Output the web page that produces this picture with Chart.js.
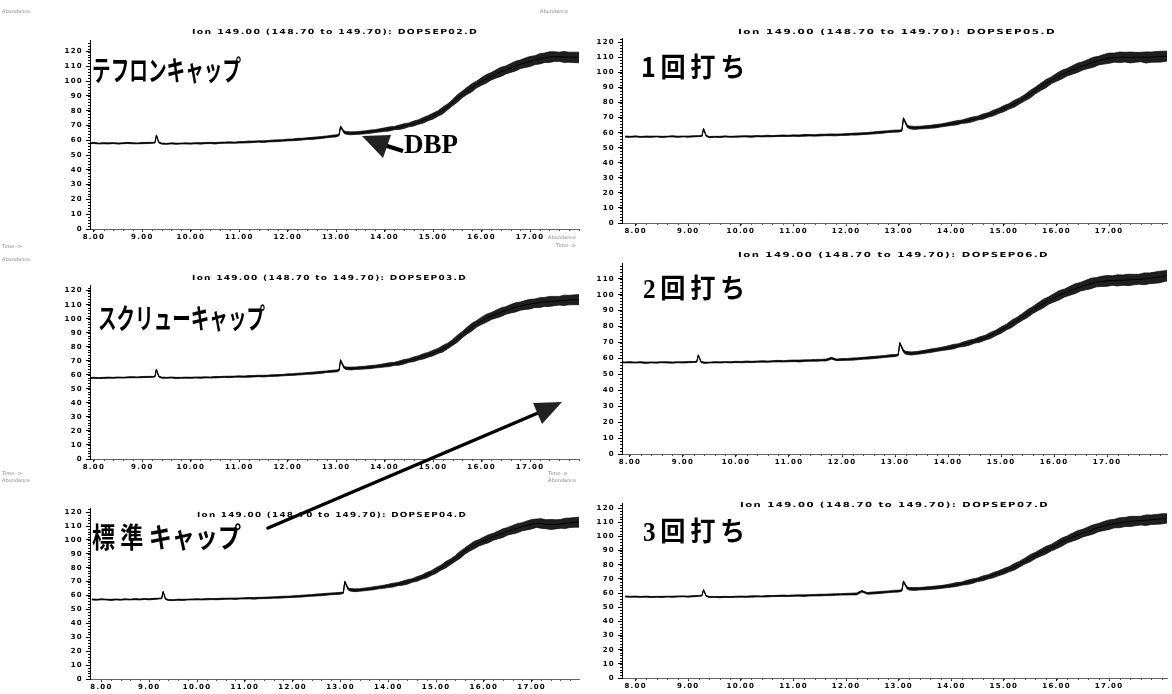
<!DOCTYPE html>
<html>
<head>
<meta charset="utf-8">
<script src="https://cdn.jsdelivr.net/npm/chart.js@4.4.1/dist/chart.umd.min.js"></script>
<style>
  html, body { margin: 0; padding: 0; background: #fff; }
  #page { position: relative; width: 1172px; height: 694px; overflow: hidden; background: #fff; }
  #page canvas { position: absolute; }
  #notes { left: 0; top: 0; z-index: 2; pointer-events: none; }
</style>
</head>
<body>
<div id="page"><canvas id="notes" width="1172" height="694"></canvas></div>
<script>
// Retention time grid (min), shared by all six ion-149 traces
const retentionTime = [
  7.8, 7.9, 8.0, 8.1, 8.2, 8.3, 8.4, 8.5, 8.6, 8.7,
  8.8, 8.9, 9.0, 9.1, 9.2, 9.26, 9.29, 9.34, 9.4, 9.5,
  9.6, 9.7, 9.8, 9.9, 10.0, 10.1, 10.2, 10.3, 10.4, 10.5,
  10.6, 10.7, 10.8, 10.9, 11.0, 11.1, 11.2, 11.3, 11.4, 11.5,
  11.6, 11.7, 11.8, 11.9, 12.0, 12.1, 12.2, 12.3, 12.4, 12.5,
  12.6, 12.7, 12.8, 12.9, 13.0, 13.06, 13.09, 13.16, 13.2, 13.3,
  13.4, 13.5, 13.6, 13.7, 13.8, 13.9, 14.0, 14.1, 14.2, 14.3,
  14.4, 14.5, 14.6, 14.7, 14.8, 14.9, 15.0, 15.1, 15.2, 15.3,
  15.4, 15.5, 15.6, 15.7, 15.8, 15.9, 16.0, 16.1, 16.2, 16.3,
  16.4, 16.5, 16.6, 16.7, 16.8, 16.9, 17.0, 17.1, 17.2, 17.3,
  17.4, 17.5, 17.6, 17.7, 17.8, 17.9, 18.0, 18.1, 18.2, 18.3
];

// Half-height of the noise band around each trace (abundance units)
const noiseHalfWidth = [
  0.4, 0.3, 0.4, 0.3, 0.4, 0.4, 0.3, 0.4, 0.3, 0.4,
  0.4, 0.3, 0.4, 0.4, 0.3, 0.3, 0.3, 0.4, 0.4, 0.3,
  0.4, 0.4, 0.3, 0.4, 0.4, 0.4, 0.5, 0.4, 0.4, 0.5,
  0.4, 0.4, 0.5, 0.4, 0.5, 0.5, 0.6, 0.5, 0.5, 0.6,
  0.5, 0.6, 0.6, 0.5, 0.6, 0.6, 0.7, 0.6, 0.6, 0.7,
  0.7, 0.7, 0.6, 0.7, 0.7, 0.5, 0.5, 0.8, 0.9, 1.0,
  0.9, 1.0, 1.0, 1.1, 1.0, 1.1, 1.2, 1.4, 1.1, 1.5,
  1.6, 1.3, 1.7, 1.5, 1.9, 1.7, 2.0, 1.8, 2.3, 2.0,
  2.1, 2.5, 2.2, 2.4, 2.7, 2.3, 2.6, 2.9, 2.5, 2.8,
  3.1, 2.7, 3.0, 3.3, 2.9, 3.2, 3.4, 3.0, 3.5, 3.2,
  3.6, 3.3, 3.1, 3.7, 3.4, 3.5, 3.6, 3.3, 3.7, 3.5
];

// Abundance traces, one per sample
const teflonCap = [
  58.1, 57.9, 58.2, 57.8, 58.0, 57.9, 58.1, 57.8, 58.0, 58.2,
  58.0, 57.9, 58.1, 58.2, 58.3, 58.4, 63.4, 58.6, 57.8, 57.6,
  57.9, 57.7, 57.8, 57.9, 57.8, 58.0, 57.9, 58.1, 58.2, 58.0,
  58.3, 58.4, 58.5, 58.4, 58.6, 58.7, 58.9, 59.0, 59.2, 59.1,
  59.4, 59.6, 59.7, 59.9, 60.2, 60.3, 60.6, 60.8, 61.1, 61.3,
  61.6, 61.9, 62.3, 62.7, 63.0, 63.6, 69.3, 65.6, 65.0, 64.7,
  64.9, 65.1, 65.4, 65.8, 66.2, 66.7, 67.2, 67.7, 68.3, 68.8,
  69.6, 70.4, 71.3, 72.4, 73.6, 75.0, 76.4, 78.1, 80.2, 82.6,
  85.4, 88.3, 91.0, 93.4, 95.6, 97.8, 99.8, 101.6, 103.3, 104.9,
  106.3, 107.6, 108.9, 110.2, 111.4, 112.4, 113.3, 114.2, 115.1, 115.8,
  116.3, 116.6, 116.5, 116.4, 116.2, 116.1, 116.0, 116.0, 116.0, 116.0
];
const singleStrike = [
  57.4, 57.3, 57.5, 57.2, 57.4, 57.3, 57.5, 57.2, 57.4, 57.6,
  57.3, 57.5, 57.4, 57.6, 57.7, 57.8, 62.6, 57.9, 57.1, 57.3,
  57.2, 57.5, 57.3, 57.4, 57.5, 57.6, 57.4, 57.7, 57.6, 57.8,
  57.7, 57.9, 58.0, 57.9, 58.1, 58.0, 58.2, 58.3, 58.2, 58.4,
  58.5, 58.6, 58.5, 58.7, 58.8, 59.0, 59.1, 59.3, 59.5, 59.8,
  60.1, 60.4, 60.7, 61.0, 61.1, 61.4, 69.6, 64.4, 63.6, 63.2,
  63.4, 63.6, 63.9, 64.3, 64.8, 65.4, 66.0, 66.6, 67.3, 68.0,
  68.8, 69.7, 70.7, 71.8, 73.1, 74.5, 76.0, 77.6, 79.3, 81.2,
  83.3, 85.6, 88.1, 90.4, 92.6, 94.8, 96.8, 98.6, 100.2, 101.7,
  103.1, 104.4, 105.6, 106.8, 107.9, 108.8, 109.5, 109.9, 110.1, 110.2,
  110.0, 110.1, 110.3, 110.0, 110.2, 110.4, 110.6, 110.9, 111.2, 111.0
];
const screwCap = [
  57.8, 57.6, 57.9, 57.7, 57.8, 58.0, 57.9, 58.1, 58.0, 58.2,
  58.3, 58.2, 58.4, 58.5, 58.6, 58.7, 63.9, 58.8, 58.0, 57.9,
  58.1, 57.8, 57.9, 58.0, 57.9, 58.1, 58.0, 58.2, 58.1, 58.3,
  58.4, 58.6, 58.5, 58.7, 58.8, 58.7, 58.9, 59.0, 59.2, 59.1,
  59.3, 59.5, 59.6, 59.8, 60.1, 60.2, 60.5, 60.7, 61.0, 61.2,
  61.5, 61.8, 62.2, 62.5, 62.8, 63.3, 70.4, 65.4, 64.7, 64.5,
  64.7, 64.9, 65.2, 65.5, 65.9, 66.3, 66.8, 67.3, 67.8, 68.4,
  69.3, 70.2, 71.1, 72.1, 73.2, 74.3, 75.6, 77.0, 78.6, 80.6,
  83.0, 85.7, 88.6, 91.5, 94.0, 96.4, 98.5, 100.3, 101.9, 103.3,
  104.6, 105.9, 107.1, 108.1, 109.0, 109.8, 110.4, 111.0, 111.5, 112.0,
  112.3, 112.6, 112.8, 113.1, 113.3, 113.5, 113.6, 113.6, 113.6, 113.6
];
const doubleStrike = [
  57.7, 57.5, 57.6, 57.4, 57.6, 57.3, 57.5, 57.4, 57.6, 57.5,
  57.4, 57.6, 57.5, 57.7, 57.8, 57.9, 62.1, 57.8, 57.3, 57.4,
  57.6, 57.5, 57.7, 57.6, 57.8, 57.7, 57.9, 57.8, 58.0, 58.1,
  58.0, 58.2, 58.3, 58.2, 58.4, 58.5, 58.4, 58.6, 58.7, 58.8,
  58.9, 59.0, 60.1, 59.1, 59.3, 59.4, 59.6, 59.8, 60.1, 60.3,
  60.6, 60.9, 61.2, 61.6, 61.8, 62.2, 69.7, 64.6, 63.6, 63.1,
  63.4, 63.9, 64.4, 65.0, 65.5, 66.1, 66.7, 67.4, 68.2, 69.0,
  69.9, 70.9, 71.9, 73.0, 74.4, 76.0, 77.8, 79.7, 81.7, 83.8,
  86.0, 88.2, 90.4, 92.5, 94.5, 96.4, 98.1, 99.7, 101.1, 102.5,
  103.8, 105.0, 106.1, 107.1, 107.9, 108.4, 108.7, 108.9, 109.0, 109.2,
  109.3, 109.5, 109.7, 110.0, 110.3, 110.7, 111.2, 111.8, 112.5, 113.0
];
const standardCap = [
  57.2, 57.0, 57.3, 57.1, 56.9, 57.2, 57.0, 57.3, 57.1, 57.4,
  57.2, 57.5, 57.3, 57.6, 57.8, 58.0, 62.8, 57.5, 56.8, 56.7,
  57.0, 56.9, 57.1, 57.2, 57.3, 57.2, 57.4, 57.5, 57.4, 57.6,
  57.7, 57.8, 57.7, 57.9, 58.0, 58.1, 58.0, 58.2, 58.3, 58.4,
  58.6, 58.7, 58.9, 59.0, 59.2, 59.4, 59.6, 59.9, 60.1, 60.4,
  60.6, 60.9, 61.2, 61.4, 61.6, 62.0, 70.0, 64.8, 64.1, 63.8,
  64.0, 64.4, 64.8, 65.3, 65.8, 66.3, 66.9, 67.5, 68.2, 68.9,
  69.8, 70.8, 71.9, 73.2, 74.6, 76.2, 78.0, 80.0, 82.1, 84.2,
  86.6, 89.2, 91.9, 94.3, 96.3, 98.0, 99.5, 100.9, 102.3, 103.6,
  104.9, 106.2, 107.3, 108.4, 109.4, 110.4, 111.3, 112.0, 111.8, 111.3,
  111.1, 111.2, 111.5, 111.9, 112.3, 112.6, 112.8, 113.0, 113.0, 113.0
];
const tripleStrike = [
  57.6, 57.4, 57.5, 57.3, 57.5, 57.2, 57.4, 57.3, 57.5, 57.4,
  57.6, 57.7, 57.5, 57.8, 58.0, 58.2, 62.3, 57.9, 57.2, 57.3,
  57.1, 57.3, 57.2, 57.4, 57.5, 57.4, 57.6, 57.7, 57.6, 57.8,
  57.9, 58.0, 58.1, 58.0, 58.2, 58.3, 58.2, 58.4, 58.5, 58.6,
  58.7, 58.8, 59.0, 59.1, 59.2, 59.3, 59.4, 61.3, 59.8, 60.0,
  60.3, 60.6, 60.9, 61.2, 61.4, 61.8, 68.2, 63.6, 63.0, 62.9,
  63.1, 63.3, 63.6, 63.9, 64.3, 64.8, 65.4, 66.0, 66.7, 67.5,
  68.4, 69.4, 70.4, 71.5, 72.7, 74.0, 75.4, 76.9, 78.6, 80.5,
  82.6, 84.6, 86.6, 88.5, 90.3, 92.1, 94.0, 96.0, 97.8, 99.5,
  101.0, 102.4, 103.7, 105.0, 106.3, 107.4, 108.3, 109.1, 109.7, 110.2,
  110.6, 110.9, 111.2, 111.5, 111.8, 112.1, 112.4, 112.8, 113.1, 113.3
];

// Tick labels
const timeTicks = [8, 9, 10, 11, 12, 13, 14, 15, 16, 17];
const abundanceTicks = [0, 10, 20, 30, 40, 50, 60, 70, 80, 90, 100, 110, 120];

// Panel frames: plot-area edges in page pixels and axis ranges
const panels = [
  { values: teflonCap,    title: 'Ion 149.00 (148.70 to 149.70): DOPSEP02.D',
    left: 90, right: 579, top: 37, bottom: 229, xMin: 7.92, xMax: 18.01, yMax: 127.7,
    titleX: 192, titleW: 286, titleY: 32 },
  { values: singleStrike, title: 'Ion 149.00 (148.70 to 149.70): DOPSEP05.D',
    left: 622, right: 1167, top: 35, bottom: 223, xMin: 7.74, xMax: 18.1, yMax: 122.8,
    titleX: 738, titleW: 318, titleY: 32 },
  { values: screwCap,     title: 'Ion 149.00 (148.70 to 149.70): DOPSEP03.D',
    left: 90, right: 579, top: 282, bottom: 459, xMin: 7.92, xMax: 18.01, yMax: 123.9,
    titleX: 192, titleW: 275, titleY: 278 },
  { values: doubleStrike, title: 'Ion 149.00 (148.70 to 149.70): DOPSEP06.D',
    left: 622, right: 1167, top: 260, bottom: 454, xMin: 7.85, xMax: 18.13, yMax: 119.8,
    titleX: 738, titleW: 311, titleY: 255 },
  { values: standardCap,  title: 'Ion 149.00 (148.70 to 149.70): DOPSEP04.D',
    left: 90, right: 579, top: 505, bottom: 679, xMin: 7.76, xMax: 17.99, yMax: 122.8,
    titleX: 197, titleW: 270, titleY: 515 },
  { values: tripleStrike, title: 'Ion 149.00 (148.70 to 149.70): DOPSEP07.D',
    left: 622, right: 1167, top: 500, bottom: 678, xMin: 7.74, xMax: 18.1, yMax: 123.5,
    titleX: 740, titleW: 309, titleY: 505 }
];

const AXIS_W = 50, AXIS_H = 22, PAD_T = 4, PAD_R = 8;
const tickFont = { family: 'DejaVu Sans', weight: 'bold', size: 7 };

// wide-set tick lettering, as on the instrument printout
const spacedTicks = {
  id: 'spacedTicks',
  beforeDraw(chart) { chart.ctx.letterSpacing = '1.3px'; }
};

// small minor ticks along both axes
const minorTicks = {
  id: 'minorTicks',
  afterDraw(chart) {
    const { ctx, scales: { x, y } } = chart;
    ctx.save();
    ctx.strokeStyle = '#000';
    ctx.lineWidth = 1;
    ctx.beginPath();
    for (let v = 0; v <= y.max; v += 2) {
      const py = Math.round(y.getPixelForValue(v)) + 0.5;
      ctx.moveTo(x.left - 2, py); ctx.lineTo(x.left, py);
    }
    ctx.stroke();
    ctx.strokeStyle = '#555';
    ctx.beginPath();
    for (let t = 8; t <= x.max; t += 0.2) {
      const px = Math.round(x.getPixelForValue(t)) + 0.5;
      ctx.moveTo(px, y.bottom); ctx.lineTo(px, y.bottom + 2);
    }
    ctx.stroke();
    ctx.restore();
  }
};

function buildPanel(p) {
  const canvas = document.createElement('canvas');
  const w = p.right - p.left + AXIS_W + PAD_R;
  const h = p.bottom - p.top + PAD_T + AXIS_H;
  canvas.width = w; canvas.height = h;
  canvas.style.left = (p.left - AXIS_W) + 'px';
  canvas.style.top = (p.top - PAD_T) + 'px';
  canvas.style.width = w + 'px'; canvas.style.height = h + 'px';
  document.getElementById('page').appendChild(canvas);

  const pts = arr => retentionTime.map((t, i) => ({ x: t, y: arr[i] }));
  const upper = p.values.map((v, i) => v + noiseHalfWidth[i]);
  const lower = p.values.map((v, i) => v - noiseHalfWidth[i]);

  new Chart(canvas, {
    type: 'line',
    data: {
      datasets: [
        { data: pts(upper), borderColor: '#000', borderWidth: 0.7, fill: false },
        { data: pts(lower), borderColor: '#000', borderWidth: 0.7, fill: '-1',
          backgroundColor: 'rgba(0,0,0,0.88)' },
        { data: pts(p.values), borderColor: '#000', borderWidth: 1, fill: false }
      ]
    },
    options: {
      responsive: false,
      animation: false,
      events: [],
      parsing: false,
      layout: { padding: { left: 0, top: PAD_T, right: PAD_R, bottom: 0 } },
      elements: { point: { radius: 0 }, line: { tension: 0 } },
      plugins: { legend: { display: false }, tooltip: { enabled: false }, title: { display: false } },
      scales: {
        x: {
          type: 'linear', min: p.xMin, max: p.xMax,
          afterFit(s) { s.height = AXIS_H; },
          afterBuildTicks(s) { s.ticks = timeTicks.filter(v => v <= s.max).map(v => ({ value: v })); },
          ticks: { font: tickFont, color: '#000', padding: 1, maxRotation: 0, autoSkip: false,
                   callback: v => Number(v).toFixed(2) },
          grid: { drawOnChartArea: false, tickLength: 3, color: '#000' },
          border: { color: '#666', dash: [2, 2], width: 1 }
        },
        y: {
          type: 'linear', min: 0, max: p.yMax,
          afterFit(s) { s.width = AXIS_W; },
          afterBuildTicks(s) { s.ticks = abundanceTicks.filter(v => v <= s.max).map(v => ({ value: v })); },
          ticks: { font: tickFont, color: '#000', padding: 3, callback: v => String(v) },
          grid: { drawOnChartArea: false, tickLength: 4, color: '#000' },
          border: { color: '#000', width: 1 }
        }
      }
    },
    plugins: [spacedTicks, minorTicks]
  });
}

panels.forEach(buildPanel);

// ---- annotations: panel titles, sample names, arrows ----
const sampleLabels = [
  { text: 'テフロンキャップ', font: 'bold 28px "Noto Sans CJK JP"', x: 92,  y: 70,  w: 149, sp: '0px' },
  { text: '1回打ち',          font: 'bold 27px "Noto Sans CJK JP"', x: 641, y: 67,  w: 109, sp: '5px' },
  { text: 'スクリューキャップ', font: 'bold 28px "Noto Sans CJK JP"', x: 98,  y: 318, w: 167, sp: '0px' },
  { text: '2回打ち',          font: 'bold 27px "Liberation Serif", "Noto Sans CJK JP"', x: 643, y: 291, w: 107, sp: '5px' },
  { text: '標 準 キャップ',    font: 'bold 28px "Noto Sans CJK JP"', x: 92,  y: 537, w: 149, sp: '0px' },
  { text: '3回打ち',          font: 'bold 27px "Liberation Serif", "Noto Sans CJK JP"', x: 643, y: 534, w: 107, sp: '5px' }
];

const smallNotes = [
  { text: 'Abundance', x: 2,   y: 12 },
  { text: 'Abundance', x: 540, y: 12 },
  { text: 'Abundance', x: 548, y: 238 },
  { text: 'Time-->',   x: 556, y: 246 },
  { text: 'Time-->',   x: 2,   y: 247 },
  { text: 'Abundance', x: 2,   y: 260 },
  { text: 'Time-->',   x: 2,   y: 474 },
  { text: 'Abundance', x: 2,   y: 481 },
  { text: 'Time-->',   x: 548, y: 474 },
  { text: 'Abundance', x: 548, y: 481 }
];

function fitText(ctx, text, font, x, yMid, width, spacing) {
  ctx.save();
  ctx.font = font;
  ctx.letterSpacing = spacing || '0px';
  const natural = ctx.measureText(text).width;
  ctx.translate(x, yMid);
  ctx.scale(width / natural, 1);
  ctx.textBaseline = 'middle';
  ctx.textAlign = 'left';
  ctx.fillText(text, 0, 0);
  ctx.restore();
}

function drawNotes() {
  const ctx = document.getElementById('notes').getContext('2d');
  ctx.fillStyle = '#000';

  panels.forEach(p => fitText(ctx, p.title, 'bold 7px "DejaVu Sans"', p.titleX, p.titleY, p.titleW, '1px'));

  sampleLabels.forEach(l => fitText(ctx, l.text, l.font, l.x, l.y, l.w, l.sp));

  ctx.save();
  ctx.fillStyle = '#8a8a8a';
  ctx.font = '5px "DejaVu Sans"';
  ctx.textBaseline = 'middle';
  smallNotes.forEach(n => ctx.fillText(n.text, n.x, n.y));
  ctx.restore();

  // DBP label and its arrow
  ctx.save();
  ctx.font = 'bold 27px "Liberation Serif"';
  ctx.textBaseline = 'alphabetic';
  ctx.fillText('DBP', 404, 153);
  ctx.strokeStyle = '#000';
  ctx.lineWidth = 4;
  ctx.beginPath(); ctx.moveTo(403, 151); ctx.lineTo(384, 145); ctx.stroke();
  ctx.fillStyle = '#222';
  ctx.beginPath(); ctx.moveTo(362, 136); ctx.lineTo(391, 135); ctx.lineTo(383, 158); ctx.closePath(); ctx.fill();
  ctx.restore();

  // long arrow from the standard-cap panel up into the screw-cap panel
  ctx.save();
  ctx.strokeStyle = '#000';
  ctx.lineWidth = 3.5;
  ctx.lineCap = 'round';
  ctx.beginPath(); ctx.moveTo(268, 528); ctx.lineTo(545, 410); ctx.stroke();
  ctx.fillStyle = '#222';
  ctx.beginPath(); ctx.moveTo(533, 403); ctx.lineTo(562, 402); ctx.lineTo(542, 424); ctx.closePath(); ctx.fill();
  ctx.restore();
}

drawNotes();
</script>
</body>
</html>
